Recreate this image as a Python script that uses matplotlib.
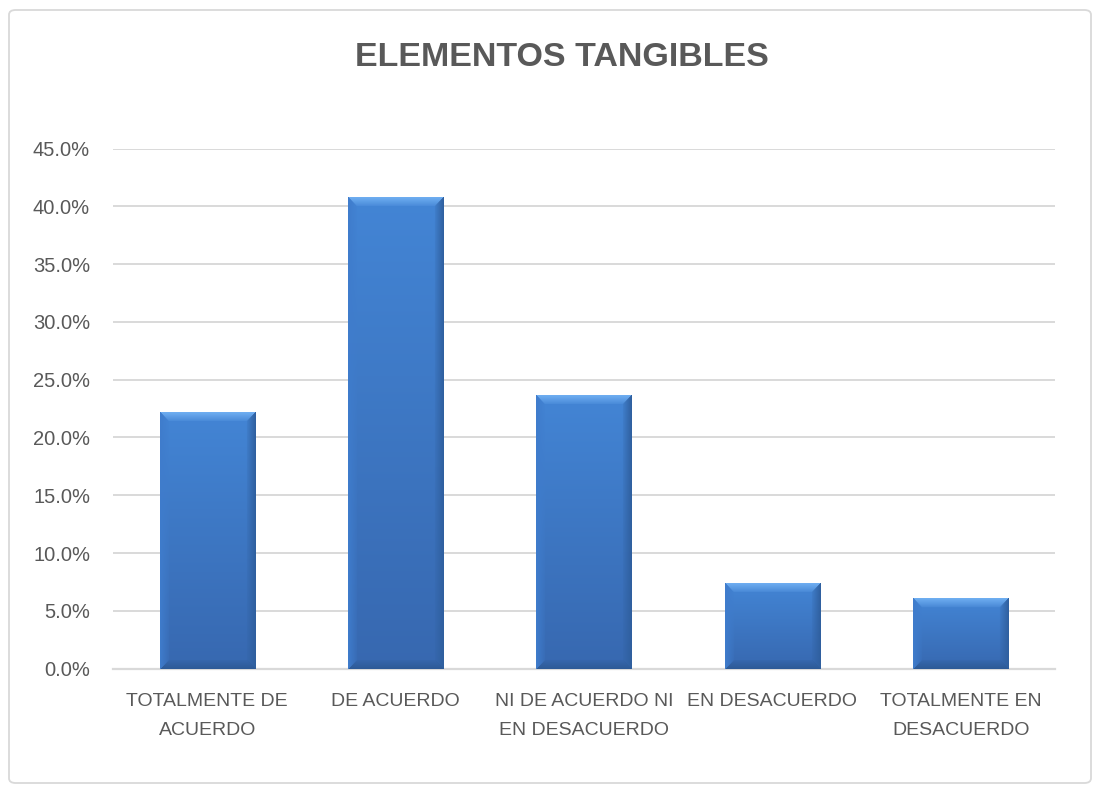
import numpy as np
import matplotlib
matplotlib.use('Agg')
import matplotlib.pyplot as plt
from matplotlib.patches import FancyBboxPatch
from matplotlib.colors import to_rgb

# data
categories = ['TOTALMENTE DE\nACUERDO', 'DE ACUERDO', 'NI DE ACUERDO NI\nEN DESACUERDO',
              'EN DESACUERDO', 'TOTALMENTE EN\nDESACUERDO']
percentages = [22.2, 40.8, 23.7, 7.4, 6.1]
y_ticks = [0, 5, 10, 15, 20, 25, 30, 35, 40, 45]
title = 'ELEMENTOS TANGIBLES'

text_color = '#595959'
grid_color = '#d9d9d9'

plt.rcParams['font.family'] = ['Liberation Sans', 'DejaVu Sans']

W, H = 1101, 792
fig = plt.figure(figsize=(W / 100, H / 100), dpi=100)
ax = fig.add_axes([113 / W, 1 - 668.6 / H, (1055 - 113) / W, (668.6 - 148.6) / H])

x = np.arange(len(categories))
bars = ax.bar(x, percentages, width=0.505, color='#3d78c6', zorder=3)

ax.set_xlim(-0.5, len(categories) - 0.5)
ax.set_ylim(0, 45)
ax.set_yticks(y_ticks)
ax.set_yticklabels([f'{v:.1f}%' for v in y_ticks], fontsize=14.5)
ax.set_xticks(x)
ax.set_xticklabels(categories, linespacing=1.95, fontsize=14)
ax.tick_params(axis='both', length=0, labelcolor=text_color)
ax.tick_params(axis='y', pad=16.5)
ax.tick_params(axis='x', pad=17.5)
ax.grid(axis='y', color=grid_color, linewidth=1.4, zorder=0)
for s in ['top', 'right', 'left']:
    ax.spines[s].set_visible(False)
ax.spines['bottom'].set_color(grid_color)
ax.spines['bottom'].set_linewidth(1.6)

# bevelled gradient fill for each bar (excel style)
fig.canvas.draw()
top_c = np.array(to_rgb('#4385d5'))
bot_c = np.array(to_rgb('#3768b0'))
bev_top = np.array(to_rgb('#70aff2'))
bev_left = np.array(to_rgb('#3f7ccc'))
bev_right = np.array(to_rgb('#2f5f9e'))
bev_bot = np.array(to_rgb('#2d5a96'))
b = 9
for bar in bars:
    x0, y0 = bar.get_x(), bar.get_y()
    x1, y1 = x0 + bar.get_width(), y0 + bar.get_height()
    (px0, py0), (px1, py1) = ax.transData.transform([(x0, y0), (x1, y1)])
    pw, ph = int(round(px1 - px0)), int(round(py1 - py0))
    cols = np.arange(pw) + 0.5
    rows = np.arange(ph) + 0.5  # from top
    C, R = np.meshgrid(cols, rows)
    t = (R / ph)[..., None]
    img = top_c * (1 - t) + bot_c * t
    dl, dr, dt, db = C, pw - C, R, ph - R
    dmin = np.minimum(np.minimum(dl, dr), np.minimum(dt, db))
    inb = dmin < b
    fade = (1 - dmin / b)[..., None] * 0.85 + 0.15
    for d, col in [(dt, bev_top), (db, bev_bot), (dl, bev_left), (dr, bev_right)]:
        m = inb & (d == dmin)
        mix = img * (1 - fade) + col * fade
        img[m] = mix[m]
    im = ax.imshow(img, extent=(x0, x1, y0, y1), aspect='auto', interpolation='bilinear',
                   zorder=4)
    im.set_clip_path(bar)

ax.set_xlim(-0.5, len(categories) - 0.5)
ax.set_ylim(0, 45)

fig.text(561.5 / W, 1 - 57.5 / H, title, ha='center', va='center', fontsize=24.5,
         fontweight='bold', color=text_color)

border = FancyBboxPatch((9 / W, 9 / H), 1 - 19 / W, 1 - 19 / H,
                        boxstyle='round,pad=0,rounding_size=0.006',
                        transform=fig.transFigure, fill=False,
                        edgecolor=grid_color, linewidth=1.3)
fig.add_artist(border)

fig.savefig('out.png', dpi=100, facecolor='white')
